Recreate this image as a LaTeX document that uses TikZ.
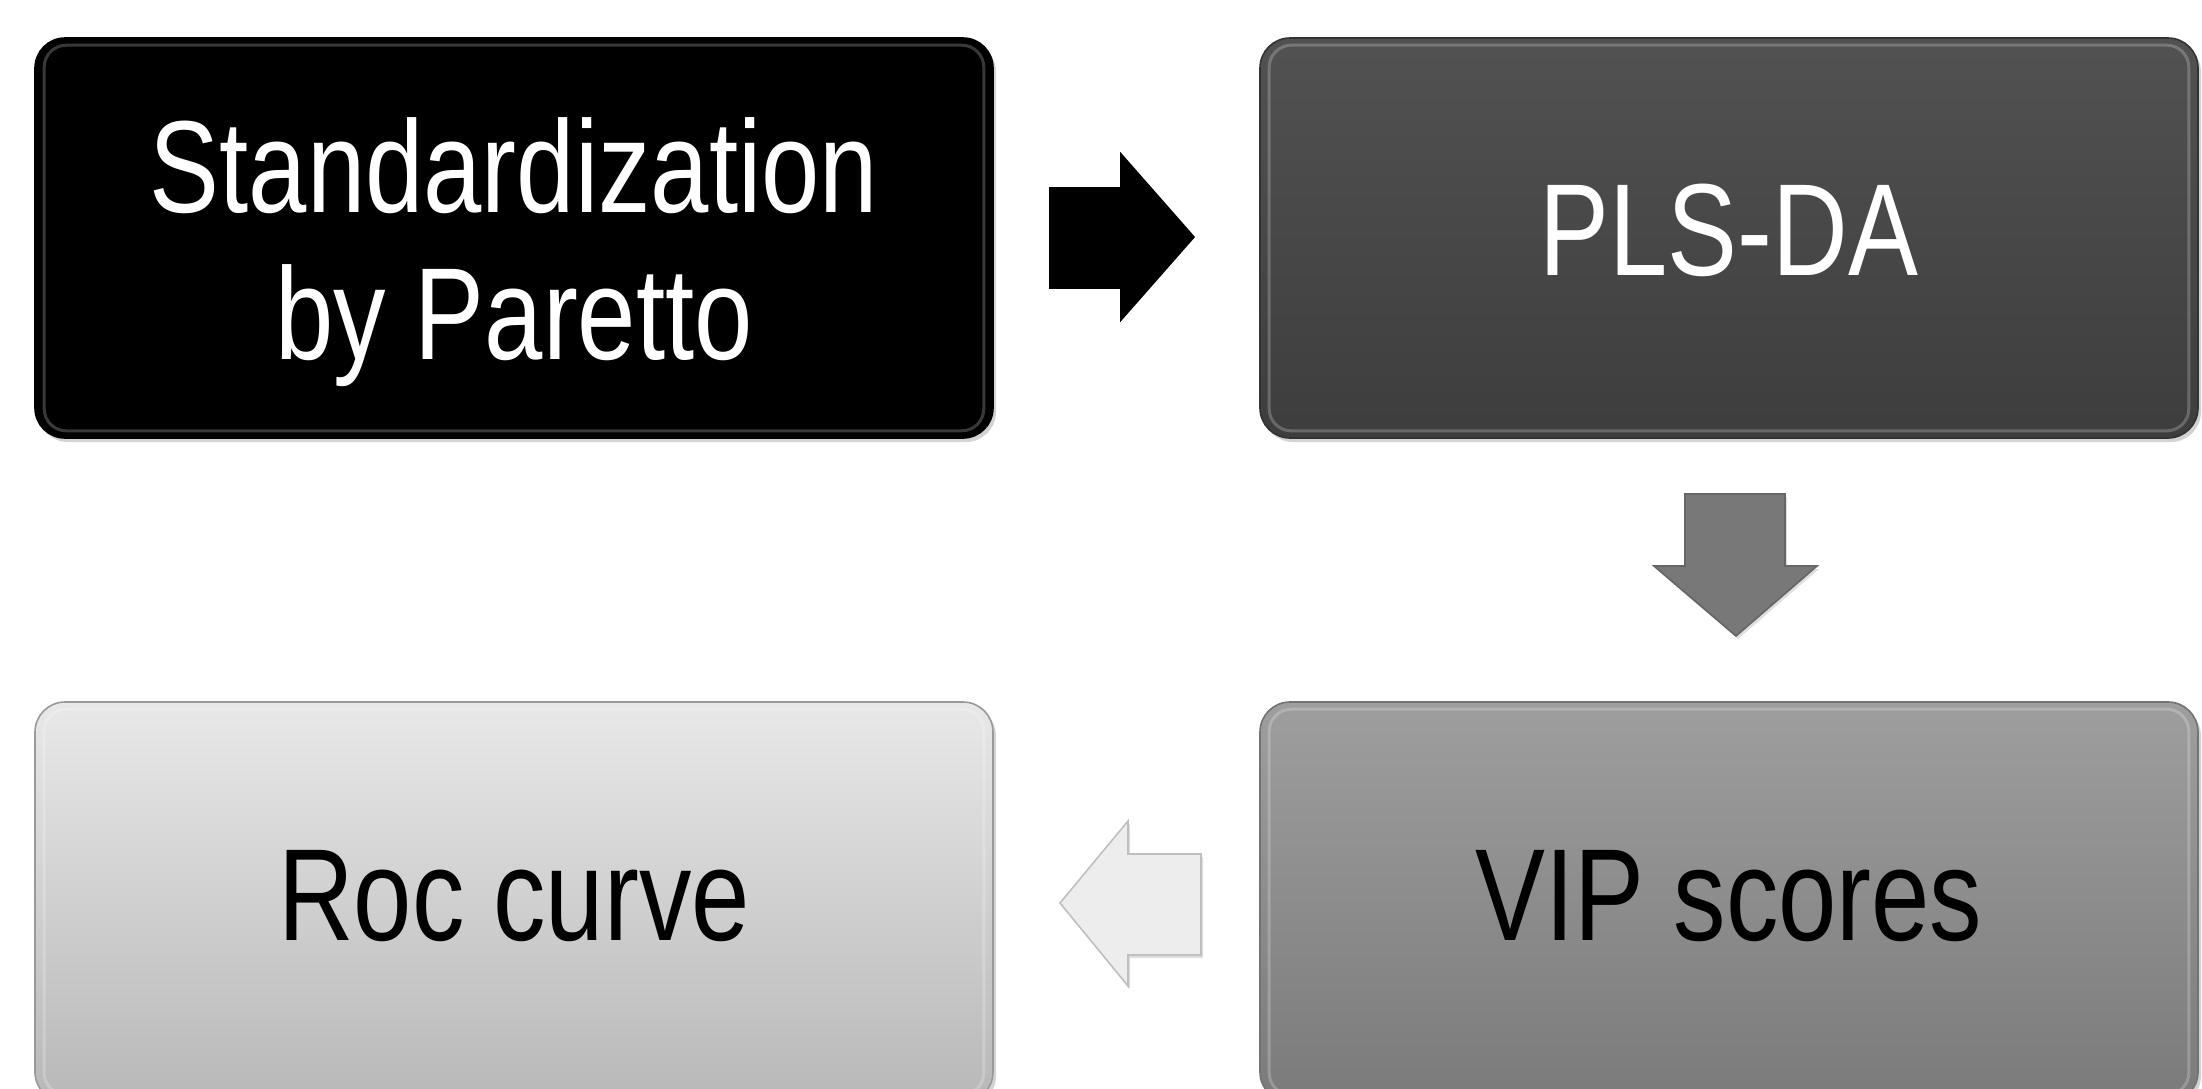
\documentclass[tikz,border=0pt]{standalone}
\usepackage{fontspec}
\newfontfamily\boxfont[FakeStretch=0.8]{Liberation Sans}
\usetikzlibrary{shadows}
\newcommand{\shiftln}[2]{\raisebox{#1}[\height][\depth]{#2}}
\begin{document}
\begin{tikzpicture}[x=0.5pt,y=-0.5pt,
  stepbox/.style={rounded corners=15pt, minimum height=200pt, inner sep=0pt,
    align=center, line width=0.8pt,
    font=\boxfont\fontsize{65.5}{73.5}\selectfont,
    drop shadow={opacity=0.35,shadow xshift=1.5pt,shadow yshift=-2pt}},
  bevel/.style={draw=white, opacity=0.22, line width=1.5pt, rounded corners=11pt},
  blockarrow/.style={line width=0.8pt, line join=miter}
]
\useasboundingbox (0,0) rectangle (2202,1088);

% boxes
\node[stepbox, minimum width=479pt, fill=black, draw=black, text=white]
  (std) at (514,238) {\shiftln{-7pt}{Standardization}\\\shiftln{-7pt}{by Paretto}};
\node[stepbox, minimum width=469pt, top color=black!68, bottom color=black!76,
  draw=black!80, text=white] (pls) at (1729,238) {\shiftln{4pt}{PLS-DA}};
\node[stepbox, minimum width=469pt, top color=black!38, bottom color=black!52,
  draw=black!55, text=black] (vip) at (1729,902) {\shiftln{3pt}{VIP scores}};
\node[stepbox, minimum width=479pt, top color=black!9, bottom color=black!28,
  draw=black!40, text=black] (roc) at (514,902) {\shiftln{3pt}{Roc curve}};

% inner bevel highlights
\foreach \n in {std,pls,vip,roc}{
  \draw[bevel] ([shift={(5pt,-4pt)}]\n.north west) rectangle ([shift={(-5pt,4pt)}]\n.south east);
}

% block arrows (connectors)
\filldraw[blockarrow, fill=black, draw=black]
  (1050,188) -- (1121,188) -- (1121,154) -- (1194,237) -- (1121,320)
  -- (1121,288) -- (1050,288) -- cycle;
\filldraw[blockarrow, fill=black!53, draw=black!60,
  drop shadow={opacity=0.25,shadow xshift=1pt,shadow yshift=-1.5pt}]
  (1685,494) -- (1785,494) -- (1785,566) -- (1817,566) -- (1736,636)
  -- (1654,566) -- (1685,566) -- cycle;
\filldraw[blockarrow, fill=black!7, draw=black!25,
  drop shadow={opacity=0.25,shadow xshift=1pt,shadow yshift=-1.5pt}]
  (1201,854) -- (1128,854) -- (1128,821) -- (1060,903) -- (1128,986)
  -- (1128,955) -- (1201,955) -- cycle;
\end{tikzpicture}
\end{document}
